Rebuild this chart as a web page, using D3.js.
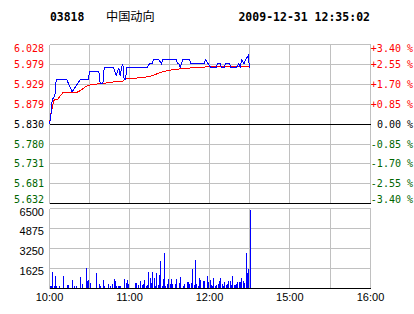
<!DOCTYPE html>
<html><head><meta charset="utf-8">
<script src="https://cdn.jsdelivr.net/npm/d3@7"></script>
<style>html,body{margin:0;padding:0;background:#fff;overflow:hidden}</style>
</head><body><svg id="c" width="414" height="314"></svg>
<script>
const stockCode = "03818";
const stockName = "中国动向";
const stamp = "2009-12-31 12:35:02";
const prevClose = 5.830;
const priceTicks = ["6.028","5.979","5.929","5.879","5.830","5.780","5.731","5.681","5.632"];
const pctTicks = ["+3.40 %","+2.55 %","+1.70 %","+0.85 %","0.00 %","-0.85 %","-1.70 %","-2.55 %","-3.40 %"];
const volTicks = ["6500","4875","3250","1625"];
const timeLabels = ["10:00","11:00","12:00","15:00","16:00"];
const gridTimes = ["10:30","11:00","11:30","12:00","12:30","15:00","15:30"];

// minutes after 10:00 open
const priceMinutes = [0,1,2,4,5,13,17,23,29,30,37,38,40,41,48,50,52,53,54,55,56,57,58,73,75,77,78,82,84,85,95,96,97,98,99,100,105,106,116,117,119,121,125,126,128,129,131,132,135,136,140,142,143,144,146,147,149,150];
const priceValues  = [5.830,5.85,5.89,5.90,5.94,5.94,5.91,5.94,5.94,5.96,5.96,5.93,5.93,5.97,5.97,5.95,5.97,5.95,5.97,5.98,5.94,5.94,5.97,5.97,5.98,5.98,5.99,5.99,5.98,5.99,5.99,5.98,5.98,5.97,5.98,5.99,5.99,5.98,5.98,5.99,5.98,5.97,5.97,5.98,5.98,5.97,5.97,5.98,5.98,5.97,5.97,5.98,5.97,5.99,5.98,5.99,6.00,5.97];

const avgMinutes = [0,1,3,4,6,10,20,23,27,31,40,46,55,57,67,75,79,85,90,97,107,117,150];
const avgValues  = [5.830,5.854,5.887,5.891,5.891,5.908,5.908,5.913,5.923,5.928,5.931,5.934,5.937,5.942,5.945,5.948,5.953,5.960,5.964,5.967,5.970,5.972,5.974];

const volMinutes = [0,1,2,3,4,5,7,10,13,14,17,18,20,23,24,27,28,29,30,35,37,38,40,41,44,45,47,48,49,50,51,52,53,56,57,58,59,64,65,66,68,69,70,71,72,73,74,75,76,77,78,79,80,81,82,83,84,85,86,87,88,89,90,91,92,94,95,97,98,100,101,103,104,105,106,107,108,109,110,111,112,113,115,116,118,119,120,121,122,123,124,125,126,127,128,129,130,131,132,133,134,135,136,137,138,139,140,141,142,143,144,145,146,147,148,149,150];
const volValues  = [190,190,1320,190,1000,190,190,1000,270,270,675,190,190,920,350,1650,600,675,430,1240,350,190,675,190,350,190,350,760,600,190,190,190,190,760,430,675,350,430,430,270,600,270,350,675,190,270,1320,840,430,1320,840,190,1240,270,1080,2210,190,760,2860,190,350,760,350,760,350,350,760,430,920,190,350,520,520,350,430,1560,270,2290,350,190,840,675,600,600,1000,520,675,270,190,840,190,270,350,600,840,350,190,520,270,350,600,600,270,1000,270,270,350,520,520,520,840,600,430,2860,1240,1560,6340];

const svg = d3.select("#c");
const tmin = s => { const p = s.split(":").map(Number); return p[0]*60 + p[1]; };
const xs = d3.scaleLinear().domain([600, 750, 870, 960]).range([49.5, 249.5, 249.5, 370.5]);
const yp = d3.scaleLinear().domain([+priceTicks[8], +priceTicks[0]]).range([203.5, 44.5]);
const yv = d3.scaleLinear().domain([0, +volTicks[0]]).range([288.5, 208.5]);
const GRID = "#c0c0c0", RED = "#ff0000", GREEN = "#006600";
const mono = "'DejaVu Sans Mono', monospace";
const sans = "'Liberation Sans', Arial, sans-serif";

// header
svg.append("text").attr("x", 50).attr("y", 21).attr("font-family", mono).attr("font-weight", "bold")
  .attr("font-size", "11.4px").text(stockCode);
svg.append("text").attr("x", 106).attr("y", 20.5).attr("font-family", "'Noto Sans CJK SC', sans-serif")
  .attr("font-size", "12.2px").text(stockName);
svg.append("text").attr("x", 370).attr("y", 21).attr("text-anchor", "end").attr("font-family", mono)
  .attr("font-weight", "bold").attr("font-size", "11.5px").text(stamp);

const g = svg.append("g").attr("shape-rendering", "crispEdges");
const x0 = xs(600), x1 = xs(960);
const pTop = yp(+priceTicks[0]), pBot = yp(+priceTicks[8]);
const vTop = yv(+volTicks[0]), vBot = yv(0);

// price grid
priceTicks.forEach((t, i) => {
  if (i === 4 || i === 8) return;
  g.append("line").attr("x1", x0).attr("x2", x1).attr("y1", yp(+t)).attr("y2", yp(+t)).attr("stroke", GRID);
});
gridTimes.forEach(t => {
  g.append("line").attr("x1", xs(tmin(t))).attr("x2", xs(tmin(t))).attr("y1", pTop).attr("y2", pBot).attr("stroke", GRID);
  g.append("line").attr("x1", xs(tmin(t))).attr("x2", xs(tmin(t))).attr("y1", vTop).attr("y2", vBot).attr("stroke", GRID);
});
[x0, x1].forEach(x => {
  g.append("line").attr("x1", x).attr("x2", x).attr("y1", pTop).attr("y2", pBot).attr("stroke", GRID);
  g.append("line").attr("x1", x).attr("x2", x).attr("y1", vTop).attr("y2", vBot).attr("stroke", GRID);
});
volTicks.forEach(t => {
  g.append("line").attr("x1", x0).attr("x2", x1).attr("y1", yv(+t)).attr("y2", yv(+t)).attr("stroke", GRID);
});

// volume bars
g.selectAll("rect.v").data(volMinutes).enter().append("rect")
  .attr("x", m => Math.round(xs(600 + m)))
  .attr("y", (m, i) => yv(volValues[i]))
  .attr("width", 1)
  .attr("height", (m, i) => Math.max(0, vBot - 0.5 - yv(volValues[i])))
  .attr("fill", "#0000ff");

// price lines
const line = d3.line().x(d => xs(600 + d[0])).y(d => yp(d[1]));
g.append("path").datum(avgMinutes.map((m, i) => [m, avgValues[i]])).attr("d", line)
  .attr("fill", "none").attr("stroke", RED).attr("stroke-width", 1);
g.append("path").datum(priceMinutes.map((m, i) => [m, priceValues[i]])).attr("d", line)
  .attr("fill", "none").attr("stroke", "#0000ff").attr("stroke-width", 1);

// black lines
g.append("line").attr("x1", x0).attr("x2", x1).attr("y1", yp(prevClose)).attr("y2", yp(prevClose)).attr("stroke", "#000");
g.append("line").attr("x1", x0).attr("x2", x1).attr("y1", pBot).attr("y2", pBot).attr("stroke", "#000");
g.append("line").attr("x1", x0).attr("x2", x1).attr("y1", vBot).attr("y2", vBot).attr("stroke", "#000");

// price & percent labels
const col = i => i < 4 ? RED : (i === 4 ? "#000" : GREEN);
priceTicks.forEach((t, i) => {
  const y = Math.min(Math.max(yp(+t), 48), 199.5);
  svg.append("text").attr("x", 44).attr("y", y).attr("dy", "0.35em").attr("text-anchor", "end")
    .attr("font-family", mono).attr("font-size", "10px").attr("fill", col(i)).text(t);
  svg.append("text").attr("x", 413).attr("y", y).attr("dy", "0.35em").attr("text-anchor", "end")
    .attr("font-family", mono).attr("font-size", "10px").attr("fill", col(i)).text(pctTicks[i]);
});
volTicks.forEach(t => {
  const y = Math.max(yv(+t) + 3, 212.5);
  svg.append("text").attr("x", 44).attr("y", y).attr("dy", "0.35em").attr("text-anchor", "end")
    .attr("font-family", sans).attr("font-size", "11px").attr("fill", "#000").text(t);
});
timeLabels.forEach(t => {
  svg.append("text").attr("x", xs(tmin(t))).attr("y", 301).attr("text-anchor", "middle")
    .attr("font-family", sans).attr("font-size", "11px").attr("fill", "#000").text(t);
});
</script></body></html>
